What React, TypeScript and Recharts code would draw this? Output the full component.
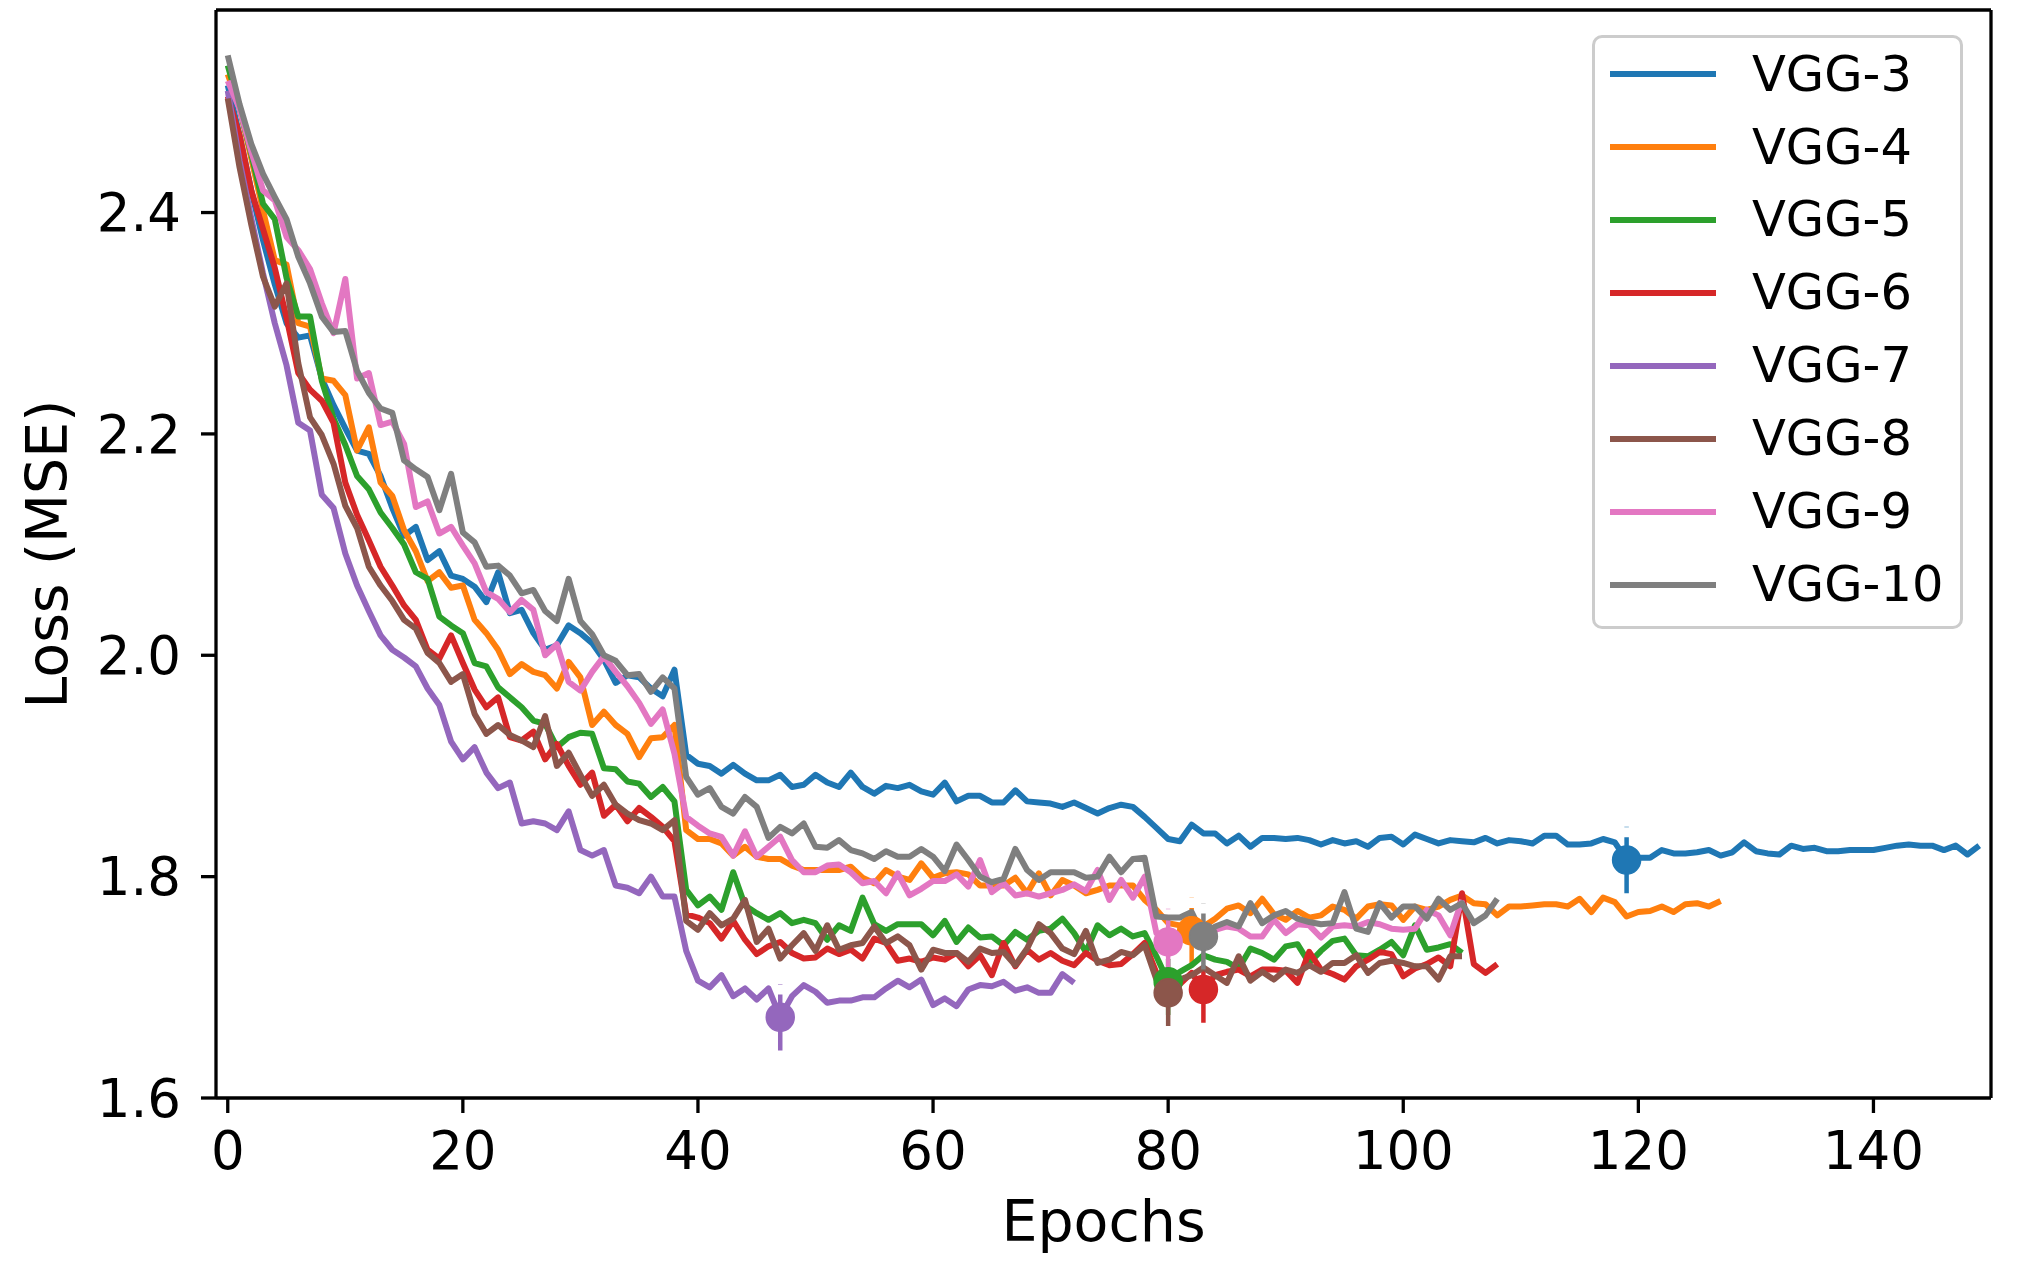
import React from "react";
import { ComposedChart, Line, XAxis, YAxis, ReferenceLine } from "recharts";

// loss per epoch
const vgg3Loss = [
  2.515, 2.47, 2.42, 2.375, 2.335, 2.3, 2.287, 2.289, 2.25, 2.226,
  2.205, 2.185, 2.182, 2.162, 2.133, 2.108, 2.116, 2.086, 2.094, 2.072,
  2.069, 2.062, 2.048, 2.075, 2.038, 2.041, 2.02, 2.005, 2.009, 2.027,
  2.02, 2.011, 1.996, 1.975, 1.982, 1.98, 1.97, 1.963, 1.987, 1.91,
  1.902, 1.9, 1.893, 1.901, 1.893, 1.887, 1.887, 1.892, 1.881, 1.883,
  1.892, 1.885, 1.881, 1.894, 1.881, 1.875, 1.882, 1.88, 1.883, 1.877,
  1.874, 1.885, 1.868, 1.873, 1.873, 1.867, 1.867, 1.878, 1.868, 1.867,
  1.866, 1.863, 1.867, 1.862, 1.857, 1.862, 1.865, 1.863, 1.854, 1.844,
  1.834, 1.832, 1.847, 1.839, 1.839, 1.83, 1.837, 1.827, 1.835, 1.835,
  1.834, 1.835, 1.833, 1.829, 1.833, 1.83, 1.832, 1.827, 1.835, 1.836,
  1.829, 1.838, 1.834, 1.83, 1.833, 1.832, 1.831, 1.835, 1.83, 1.833,
  1.832, 1.83, 1.837, 1.837, 1.829, 1.829, 1.83, 1.834, 1.831, 1.815,
  1.817, 1.817, 1.824, 1.821, 1.821, 1.822, 1.824, 1.819, 1.822, 1.831,
  1.823, 1.821, 1.82, 1.828, 1.825, 1.826, 1.823, 1.823, 1.824, 1.824,
  1.824, 1.826, 1.828, 1.829, 1.828, 1.828, 1.824, 1.828, 1.82, 1.828,
];
const vgg4Loss = [
  2.525, 2.495, 2.449, 2.402, 2.357, 2.353, 2.3, 2.297, 2.25, 2.248,
  2.235, 2.185, 2.206, 2.156, 2.144, 2.113, 2.094, 2.067, 2.075, 2.061,
  2.063, 2.032, 2.02, 2.005, 1.983, 1.992, 1.985, 1.982, 1.97, 1.994,
  1.98, 1.937, 1.949, 1.937, 1.929, 1.908, 1.925, 1.926, 1.937, 1.842,
  1.834, 1.834, 1.83, 1.819, 1.827, 1.818, 1.816, 1.816, 1.81, 1.806,
  1.806, 1.806, 1.806, 1.809, 1.799, 1.794, 1.806, 1.8, 1.797, 1.812,
  1.799, 1.803, 1.804, 1.802, 1.792, 1.792, 1.792, 1.799, 1.785, 1.803,
  1.783, 1.797, 1.792, 1.785, 1.788, 1.792, 1.792, 1.792, 1.779, 1.77,
  1.758, 1.756, 1.751, 1.755, 1.762, 1.771, 1.774, 1.767, 1.78, 1.766,
  1.761, 1.769, 1.763, 1.765, 1.773, 1.77, 1.762, 1.773, 1.775, 1.774,
  1.761, 1.773, 1.77, 1.773, 1.779, 1.783, 1.776, 1.775, 1.765, 1.773,
  1.773, 1.774, 1.775, 1.775, 1.773, 1.78, 1.768, 1.781, 1.777, 1.764,
  1.768, 1.769, 1.773, 1.768, 1.775, 1.776, 1.773, 1.778,
];
const vgg5Loss = [
  2.533, 2.495, 2.453, 2.408, 2.394, 2.341, 2.306, 2.306, 2.248, 2.214,
  2.19, 2.162, 2.15, 2.129, 2.115, 2.1, 2.075, 2.069, 2.035, 2.027,
  2.02, 1.993, 1.99, 1.971, 1.962, 1.953, 1.941, 1.938, 1.917, 1.926,
  1.93, 1.929, 1.898, 1.897, 1.886, 1.884, 1.872, 1.881, 1.868, 1.788,
  1.774, 1.782, 1.77, 1.804, 1.774, 1.767, 1.761, 1.767, 1.758, 1.761,
  1.758, 1.743, 1.756, 1.751, 1.781, 1.757, 1.751, 1.757, 1.757, 1.757,
  1.747, 1.76, 1.741, 1.754, 1.745, 1.746, 1.738, 1.75, 1.743, 1.751,
  1.753, 1.762, 1.749, 1.732, 1.756, 1.747, 1.753, 1.746, 1.749, 1.728,
  1.705, 1.714, 1.72, 1.729, 1.725, 1.723, 1.717, 1.735, 1.731, 1.725,
  1.737, 1.739, 1.722, 1.733, 1.742, 1.744, 1.729, 1.728, 1.734, 1.741,
  1.729, 1.756, 1.734, 1.736, 1.739, 1.731,
];
const vgg6Loss = [
  2.505, 2.47, 2.42, 2.385, 2.35, 2.305, 2.255, 2.24, 2.23, 2.21,
  2.156, 2.127, 2.104, 2.08, 2.063, 2.045, 2.032, 2.005, 1.997, 2.018,
  1.993, 1.969, 1.953, 1.962, 1.926, 1.923, 1.931, 1.906, 1.92, 1.9,
  1.883, 1.894, 1.855, 1.865, 1.85, 1.862, 1.854, 1.845, 1.832, 1.766,
  1.763, 1.758, 1.744, 1.76, 1.743, 1.73, 1.737, 1.741, 1.731, 1.726,
  1.727, 1.735, 1.73, 1.734, 1.726, 1.744, 1.74, 1.724, 1.726, 1.723,
  1.727, 1.725, 1.731, 1.719, 1.729, 1.711, 1.74, 1.719, 1.734, 1.725,
  1.731, 1.724, 1.72, 1.731, 1.724, 1.72, 1.721, 1.73, 1.74, 1.713,
  1.705, 1.703, 1.713, 1.698, 1.711, 1.714, 1.716, 1.71, 1.716, 1.716,
  1.715, 1.704, 1.732, 1.716, 1.712, 1.707, 1.719, 1.725, 1.732, 1.73,
  1.71, 1.717, 1.721, 1.727, 1.719, 1.785, 1.721, 1.713, 1.721,
];
const vgg7Loss = [
  2.51, 2.447, 2.395, 2.345, 2.3, 2.262, 2.21, 2.203, 2.145, 2.133,
  2.092, 2.063, 2.04, 2.018, 2.005, 1.998, 1.99, 1.97, 1.955, 1.922,
  1.906, 1.917, 1.894, 1.88, 1.885, 1.848, 1.85, 1.848, 1.842, 1.859,
  1.824, 1.819, 1.824, 1.792, 1.79, 1.785, 1.8, 1.782, 1.782, 1.733,
  1.706, 1.7, 1.711, 1.692, 1.699, 1.689, 1.699, 1.673, 1.692, 1.702,
  1.696, 1.686, 1.688, 1.688, 1.691, 1.691, 1.699, 1.706, 1.7, 1.707,
  1.684, 1.69, 1.683, 1.698, 1.702, 1.701, 1.705, 1.697, 1.7, 1.695,
  1.695, 1.712, 1.704,
];
const vgg8Loss = [
  2.503, 2.441, 2.389, 2.342, 2.315, 2.336, 2.264, 2.215, 2.199, 2.173,
  2.135, 2.115, 2.08, 2.063, 2.049, 2.032, 2.024, 2.002, 1.993, 1.976,
  1.983, 1.947, 1.929, 1.937, 1.928, 1.923, 1.917, 1.945, 1.9, 1.912,
  1.892, 1.873, 1.883, 1.865, 1.857, 1.851, 1.848, 1.842, 1.851, 1.76,
  1.752, 1.767, 1.756, 1.762, 1.779, 1.741, 1.753, 1.726, 1.738, 1.749,
  1.733, 1.756, 1.734, 1.738, 1.74, 1.755, 1.74, 1.746, 1.738, 1.716,
  1.734, 1.731, 1.731, 1.723, 1.735, 1.731, 1.732, 1.72, 1.735, 1.757,
  1.749, 1.735, 1.73, 1.751, 1.722, 1.725, 1.732, 1.729, 1.738, 1.707,
  1.695, 1.707, 1.711, 1.718, 1.711, 1.704, 1.728, 1.706, 1.714, 1.707,
  1.716, 1.713, 1.72, 1.714, 1.722, 1.722, 1.729, 1.713, 1.722, 1.724,
  1.722, 1.719, 1.719, 1.707, 1.728, 1.728,
];
const vgg9Loss = [
  2.519, 2.494, 2.455, 2.42, 2.411, 2.378, 2.366, 2.349, 2.318, 2.291,
  2.34, 2.25, 2.255, 2.208, 2.211, 2.191, 2.134, 2.139, 2.11, 2.116,
  2.099, 2.083, 2.057, 2.051, 2.039, 2.05, 2.041, 2.0, 2.01, 1.976,
  1.968, 1.985, 1.999, 1.985, 1.972, 1.957, 1.938, 1.951, 1.911, 1.854,
  1.846, 1.839, 1.836, 1.819, 1.841, 1.818, 1.827, 1.836, 1.815, 1.804,
  1.804, 1.81, 1.811, 1.804, 1.794, 1.796, 1.785, 1.803, 1.783, 1.789,
  1.796, 1.796, 1.802, 1.791, 1.815, 1.786, 1.794, 1.783, 1.785, 1.782,
  1.785, 1.788, 1.793, 1.787, 1.806, 1.779, 1.797, 1.781, 1.8, 1.749,
  1.741, 1.749, 1.752, 1.753, 1.752, 1.755, 1.753, 1.746, 1.746, 1.761,
  1.749, 1.757, 1.756, 1.745, 1.755, 1.756, 1.755, 1.759, 1.757, 1.753,
  1.752, 1.753, 1.77, 1.765, 1.747, 1.779,
];
const vgg10Loss = [
  2.542, 2.498, 2.462, 2.435, 2.414, 2.394, 2.36, 2.336, 2.306, 2.292,
  2.293, 2.257, 2.237, 2.223, 2.219, 2.176, 2.168, 2.161, 2.131, 2.164,
  2.111, 2.102, 2.08, 2.081, 2.072, 2.056, 2.059, 2.04, 2.031, 2.069,
  2.031, 2.019, 2.0, 1.995, 1.982, 1.983, 1.967, 1.98, 1.97, 1.89,
  1.874, 1.88, 1.863, 1.857, 1.872, 1.863, 1.835, 1.845, 1.839, 1.848,
  1.827, 1.826, 1.833, 1.824, 1.821, 1.816, 1.823, 1.818, 1.818, 1.825,
  1.818, 1.805, 1.829, 1.815, 1.8, 1.795, 1.798, 1.825, 1.806, 1.797,
  1.804, 1.804, 1.804, 1.799, 1.8, 1.818, 1.804, 1.816, 1.817, 1.764,
  1.763, 1.763, 1.768, 1.746, 1.755, 1.759, 1.755, 1.776, 1.758, 1.765,
  1.769, 1.762, 1.759, 1.757, 1.758, 1.786, 1.753, 1.75, 1.776, 1.763,
  1.773, 1.773, 1.762, 1.78, 1.77, 1.776, 1.758, 1.765, 1.78,
];

const modelNames = ["VGG-3", "VGG-4", "VGG-5", "VGG-6", "VGG-7", "VGG-8", "VGG-9", "VGG-10"];
const modelLosses = [vgg3Loss, vgg4Loss, vgg5Loss, vgg6Loss, vgg7Loss, vgg8Loss, vgg9Loss, vgg10Loss];
const modelColors = ["#1f77b4", "#ff7f0e", "#2ca02c", "#d62728", "#9467bd", "#8c564b", "#e377c2", "#7f7f7f"];

const xTicks = [0, 20, 40, 60, 80, 100, 120, 140];
const yTicks = [1.6, 1.8, 2.0, 2.2, 2.4];

const FONT = "'DejaVu Sans', sans-serif";
const BAR_HALF = 0.03; // half height of the dashed bar through the best-epoch dot

const toRows = (values: number[]) => values.map((v, i) => ({ epoch: i, loss: v }));

// dot + dashed bar at the lowest loss of a run
const bestRows = (values: number[]) => {
  let best = 0;
  values.forEach((v, i) => {
    if (v < values[best]) best = i;
  });
  const y = values[best];
  return [
    { epoch: best, loss: y - BAR_HALF },
    { epoch: best, loss: y },
    { epoch: best, loss: y + BAR_HALF },
  ];
};

const bestDot = (color: string) => (p: any) =>
  p.index === 1 ? (
    <circle key={`d${p.index}`} cx={p.cx} cy={p.cy} r={14} fill={color} stroke={color} strokeWidth={1.5} />
  ) : (
    <g key={`d${p.index}`} />
  );

const YLabel = (props: any) => {
  const { viewBox } = props;
  const cx = viewBox.x + 47;
  const cy = viewBox.y + viewBox.height / 2;
  return (
    <text
      x={cx}
      y={cy}
      transform={`rotate(-90 ${cx} ${cy})`}
      textAnchor="middle"
      dominantBaseline="central"
      fontSize={57}
      fontFamily={FONT}
      fill="#000"
    >
      Loss (MSE)
    </text>
  );
};

const LegendBox = () => (
  <div
    style={{
      position: "absolute",
      left: 1592,
      top: 35,
      width: 371,
      boxSizing: "border-box",
      border: "3px solid #cccccc",
      borderRadius: 10,
      background: "rgba(255,255,255,0.8)",
      paddingBottom: 5,
      fontFamily: FONT,
    }}
  >
    {modelNames.map((name, i) => (
      <div key={name} style={{ height: 72.9, display: "flex", alignItems: "center" }}>
        <svg width={106} height={10} style={{ marginLeft: 15, flex: "none" }}>
          <line x1={0} y1={5} x2={106} y2={5} stroke={modelColors[i]} strokeWidth={6} />
        </svg>
        <span style={{ marginLeft: 36, fontSize: 49.5, color: "#000", lineHeight: 1 }}>{name}</span>
      </div>
    ))}
  </div>
);

export default function App() {
  return (
    <div
      style={{
        position: "absolute",
        left: 0,
        top: 0,
        width: 2022,
        height: 1271,
        background: "#fff",
        fontFamily: FONT,
      }}
    >
      <ComposedChart width={2022} height={1271} margin={{ top: 10, right: 31, bottom: 0, left: 0 }}>
        <XAxis
          type="number"
          dataKey="epoch"
          domain={[-1, 150]}
          ticks={xTicks}
          allowDataOverflow
          height={173}
          tick={{ fontSize: 53, fill: "#000", fontFamily: FONT }}
          tickSize={15}
          tickMargin={18}
          axisLine={{ stroke: "#000", strokeWidth: 3.3 }}
          tickLine={{ stroke: "#000", strokeWidth: 3.3 }}
          label={{ value: "Epochs", position: "insideBottom", offset: 30, fontSize: 57, fill: "#000", fontFamily: FONT }}
        />
        <YAxis
          type="number"
          dataKey="loss"
          domain={[1.6, 2.583]}
          ticks={yTicks}
          allowDataOverflow
          width={216}
          tickFormatter={(v: number) => v.toFixed(1)}
          tick={{ fontSize: 53, fill: "#000", fontFamily: FONT }}
          tickSize={15}
          tickMargin={20}
          axisLine={{ stroke: "#000", strokeWidth: 3.3 }}
          tickLine={{ stroke: "#000", strokeWidth: 3.3 }}
          label={<YLabel />}
        />
        {modelLosses.map((values, i) => [
          <Line
            key={`l${i}`}
            data={toRows(values)}
            dataKey="loss"
            name={modelNames[i]}
            type="linear"
            stroke={modelColors[i]}
            strokeWidth={6}
            strokeLinejoin="round"
            dot={false}
            activeDot={false}
            legendType="none"
            isAnimationActive={false}
          />,
          <Line
            key={`b${i}`}
            data={bestRows(values)}
            dataKey="loss"
            type="linear"
            stroke={modelColors[i]}
            strokeWidth={4.5}
            strokeDasharray="23 10"
            dot={bestDot(modelColors[i])}
            activeDot={false}
            legendType="none"
            isAnimationActive={false}
          />,
        ])}
        <ReferenceLine y={2.583} stroke="#000" strokeWidth={3.3} />
        <ReferenceLine x={150} stroke="#000" strokeWidth={3.3} />
      </ComposedChart>
      <LegendBox />
    </div>
  );
}
